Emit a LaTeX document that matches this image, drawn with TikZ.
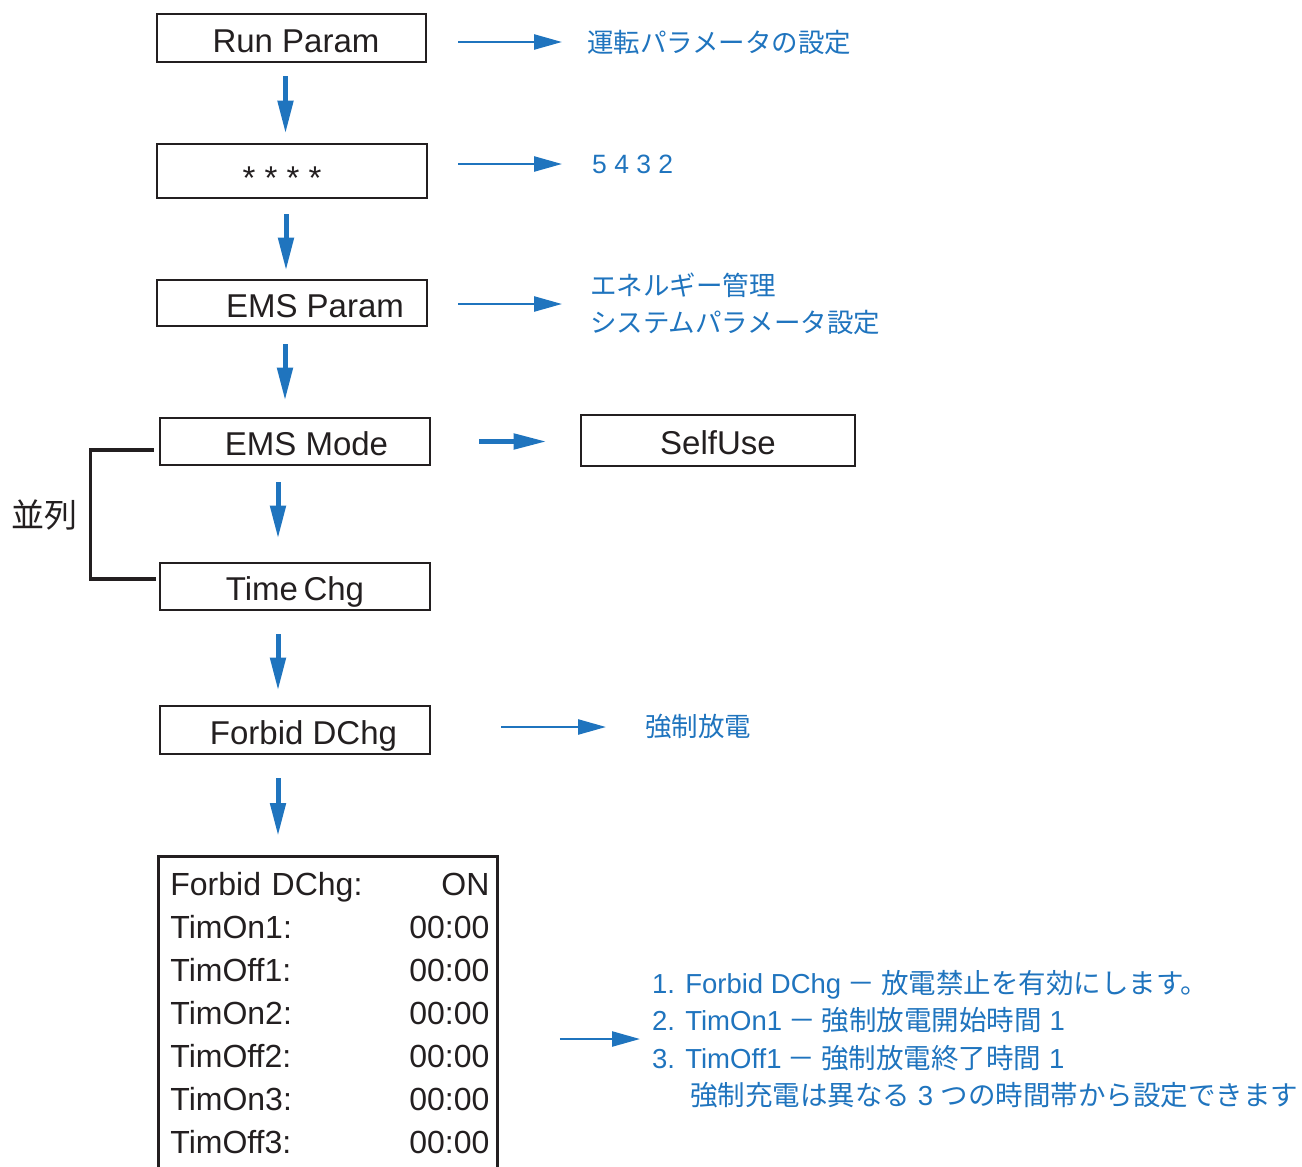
\documentclass[tikz,border=0pt]{standalone}
\usepackage{fontspec}
\setmainfont{Liberation Sans}
\newfontfamily\jpfont{Noto Sans CJK JP}
\usetikzlibrary{matrix,arrows.meta}
\definecolor{ink}{RGB}{35,31,32}
\definecolor{manblue}{RGB}{31,116,190}

\begin{document}
\begin{tikzpicture}[x=1pt,y=-1pt,
    menu/.style={draw=ink, line width=2.8pt, minimum width=270pt, minimum height=48pt, inner sep=0pt, text height=30pt, text depth=2pt, text=ink, font=\fontsize{33}{36}\selectfont},
    down/.style={draw=manblue, line width=5pt, -{Triangle[length=33pt,width=15pt]}},
    side/.style={draw=manblue, line width=2.5pt, -{Triangle[length=28pt,width=15pt]}},
    note/.style={anchor=west, inner sep=0pt, align=left, text=manblue, font=\fontsize{26.5}{37.5}\selectfont\jpfont},
  ]
  \useasboundingbox (0,0) rectangle (1302,1167);

  % menu chain
  \node[menu, minimum width=269pt] (run) at (291.5,38) {\hspace*{9pt}Run Param};
  \node[menu, minimum height=54pt] (pw) at (292,171) {\raisebox{-4pt}{* * * *}\hspace*{20pt}};
  \node[menu, minimum height=46pt] (ems) at (292,303) {\hspace*{46pt}EMS Param};
  \node[menu, minimum height=47pt] (mode) at (295,441.5) {\hspace*{23pt}EMS Mode};
  \node[menu, minimum height=47pt] (chg) at (295,586.5) {Time\,Chg};
  \node[menu] (fdchg) at (295,730) {\hspace*{17pt}Forbid DChg};
  \node[menu, minimum width=274pt, minimum height=51pt] (self) at (718,440.5) {SelfUse};

  \matrix (tbl) [matrix of nodes, anchor=north west, draw=ink, line width=2.8pt, inner xsep=8pt, inner ysep=9pt, column sep=8pt, row sep=0pt,
      nodes={inner sep=0pt, minimum height=43pt, text height=24pt, text depth=7pt, text=ink, font=\fontsize{32}{36}\selectfont},
      column 1/.style={nodes={text width=210pt, align=left, execute at begin node=\hspace*{4pt}}},
      column 2/.style={nodes={text width=105pt, align=right}}] at (157,855) {
    Forbid DChg: & ON    \\
    TimOn1:      & 00:00 \\
    TimOff1:     & 00:00 \\
    TimOn2:      & 00:00 \\
    TimOff2:     & 00:00 \\
    TimOn3:      & 00:00 \\
    TimOff3:     & 00:00 \\
  };

  % notes
  \node[note] (runnote) at (587,42) {運転パラメータの設定};
  \node[note] (pwnote) at (592,164) {\textrm{5 4 3 2}};
  \node[note] (emsnote) at (590,304) {エネルギー管理\\システムパラメータ設定};
  \node[note] (fnote) at (645,727) {強制放電};
  \node[note, font=\fontsize{27.5}{37.5}\selectfont\jpfont] (dnote) at (652,1039) {\textrm{1. Forbid DChg} － 放電禁止を有効にします。\\
    \textrm{2. TimOn1} － 強制放電開始時間\textrm{ 1}\\
    \textrm{3. TimOff1} － 強制放電終了時間\textrm{ 1}\\
    \hspace*{38pt}強制充電は異なる\textrm{ 3 }つの時間帯から設定できます};
  \node[text=ink, font=\fontsize{33}{36}\selectfont\jpfont] (para) at (45,515) {並列};

  % arrows
  \foreach \a/\b/\dx/\s/\e in {run/pw/-6/13/9, pw/ems/-6/15/8, ems/mode/-7/17/16, mode/chg/-17/16/23, chg/fdchg/-17/23/14, fdchg/tbl/-17/23/19}
    \draw[down, shorten <=\s pt, shorten >=\e pt] ([xshift=\dx pt]\a.south) -- ([xshift=\dx pt]\a.south |- \b.north);
  \draw[down, shorten <=48pt, shorten >=33pt] (mode.east) -- (mode.east -| self.west);

  \draw[side, shorten <=31pt, shorten >=25pt] (run.east |- runnote.west) -- (runnote.west);
  \draw[side, shorten <=30pt, shorten >=30pt] (pw.east |- pwnote.west) -- (pwnote.west);
  \draw[side, shorten <=30pt, shorten >=28pt] (ems.east |- emsnote.west) -- (emsnote.west);
  \draw[side, shorten <=70pt, shorten >=39pt] (fdchg.east |- fnote.west) -- (fnote.west);
  \draw[side, shorten <=61pt, shorten >=12pt] (tbl.east |- dnote.west) -- (dnote.west);

  % bracket
  \draw[ink, line width=3.5pt] ([xshift=-5pt,yshift=-8.5pt]mode.west) -- ++(-63,0) |- ([xshift=-3pt,yshift=7.5pt]chg.west);
\end{tikzpicture}
\end{document}
